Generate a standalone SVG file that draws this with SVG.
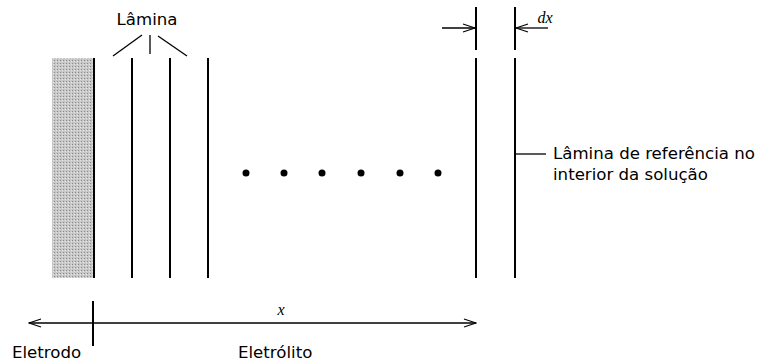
<svg xmlns="http://www.w3.org/2000/svg" width="761" height="363" viewBox="0 0 761 363">
<style>
.ln{stroke:#000;stroke-width:2;fill:none}
.thin{stroke:#000;stroke-width:1.3;fill:none}
.t{font-family:"DejaVu Sans",sans-serif;font-size:16.6px;fill:#000}
.it{font-family:"Liberation Serif",serif;font-style:italic;font-size:16px;fill:#000}
</style>
<defs>
<pattern id="dots" width="3" height="3" patternUnits="userSpaceOnUse">
<rect width="3" height="3" fill="#c8c8c8"/>
<rect width="1" height="1" fill="#8a8a8a"/>
<rect x="2" y="1" width="1" height="1" fill="#e6e6e6"/>
</pattern>
<marker id="ah" markerWidth="14" markerHeight="10" refX="13" refY="5" orient="auto" markerUnits="userSpaceOnUse">
<path d="M1,1 L13,5 L1,9" fill="none" stroke="#000" stroke-width="1.2"/>
</marker>
</defs>
<g id="eletrodo">
<rect x="52" y="58" width="42" height="220" fill="url(#dots)"/>
<line class="ln" x1="94" y1="58" x2="94" y2="278"/>
</g>
<g id="laminas">
<line class="ln" x1="132" y1="58" x2="132" y2="278"/>
<line class="ln" x1="170" y1="58" x2="170" y2="278"/>
<line class="ln" x1="208" y1="58" x2="208" y2="278"/>
<line class="ln" x1="476" y1="58" x2="476" y2="278"/>
<line class="ln" x1="515" y1="58" x2="515" y2="278"/>
</g>
<g id="dots-row" fill="#000">
<circle cx="246" cy="173" r="3.5"/>
<circle cx="284" cy="173" r="3.5"/>
<circle cx="322" cy="173" r="3.5"/>
<circle cx="361" cy="173" r="3.5"/>
<circle cx="400" cy="173" r="3.5"/>
<circle cx="438" cy="173" r="3.5"/>
</g>
<g id="label-lamina">
<text class="t" x="147" y="25" text-anchor="middle">Lâmina</text>
</g>
<g id="label-ref">
<text class="t" x="553" y="159">Lâmina de referência no</text>
<text class="t" x="553" y="180">interior da solução</text>
</g>
<g id="label-eletrodo"><text class="t" x="12" y="358">Eletrodo</text></g>
<g id="label-eletrolito"><text class="t" x="238" y="358">Eletrólito</text></g>
<g id="label-x"><text class="it" x="281" y="315" text-anchor="middle">x</text></g>
<g id="label-dx"><text class="it" x="545" y="23" text-anchor="middle">dx</text></g>
<g id="connectors">
<line class="thin" x1="150" y1="35" x2="150" y2="54"/>
<line class="thin" x1="142" y1="35" x2="113" y2="56"/>
<line class="thin" x1="158" y1="36" x2="187" y2="56"/>
<line class="ln" x1="476" y1="7" x2="476" y2="50"/>
<line class="ln" x1="515" y1="7" x2="515" y2="50"/>
<line class="thin" x1="442" y1="28" x2="475" y2="28" marker-end="url(#ah)"/>
<line class="thin" x1="548" y1="28" x2="516" y2="28" marker-end="url(#ah)"/>
<line class="thin" x1="515" y1="154" x2="546" y2="154"/>
<line class="thin" x1="93" y1="323" x2="29" y2="323" marker-end="url(#ah)"/>
<line class="thin" x1="93" y1="323" x2="476" y2="323" marker-end="url(#ah)"/>
<line class="ln" x1="93" y1="301" x2="93" y2="346"/>
</g>
</svg>
